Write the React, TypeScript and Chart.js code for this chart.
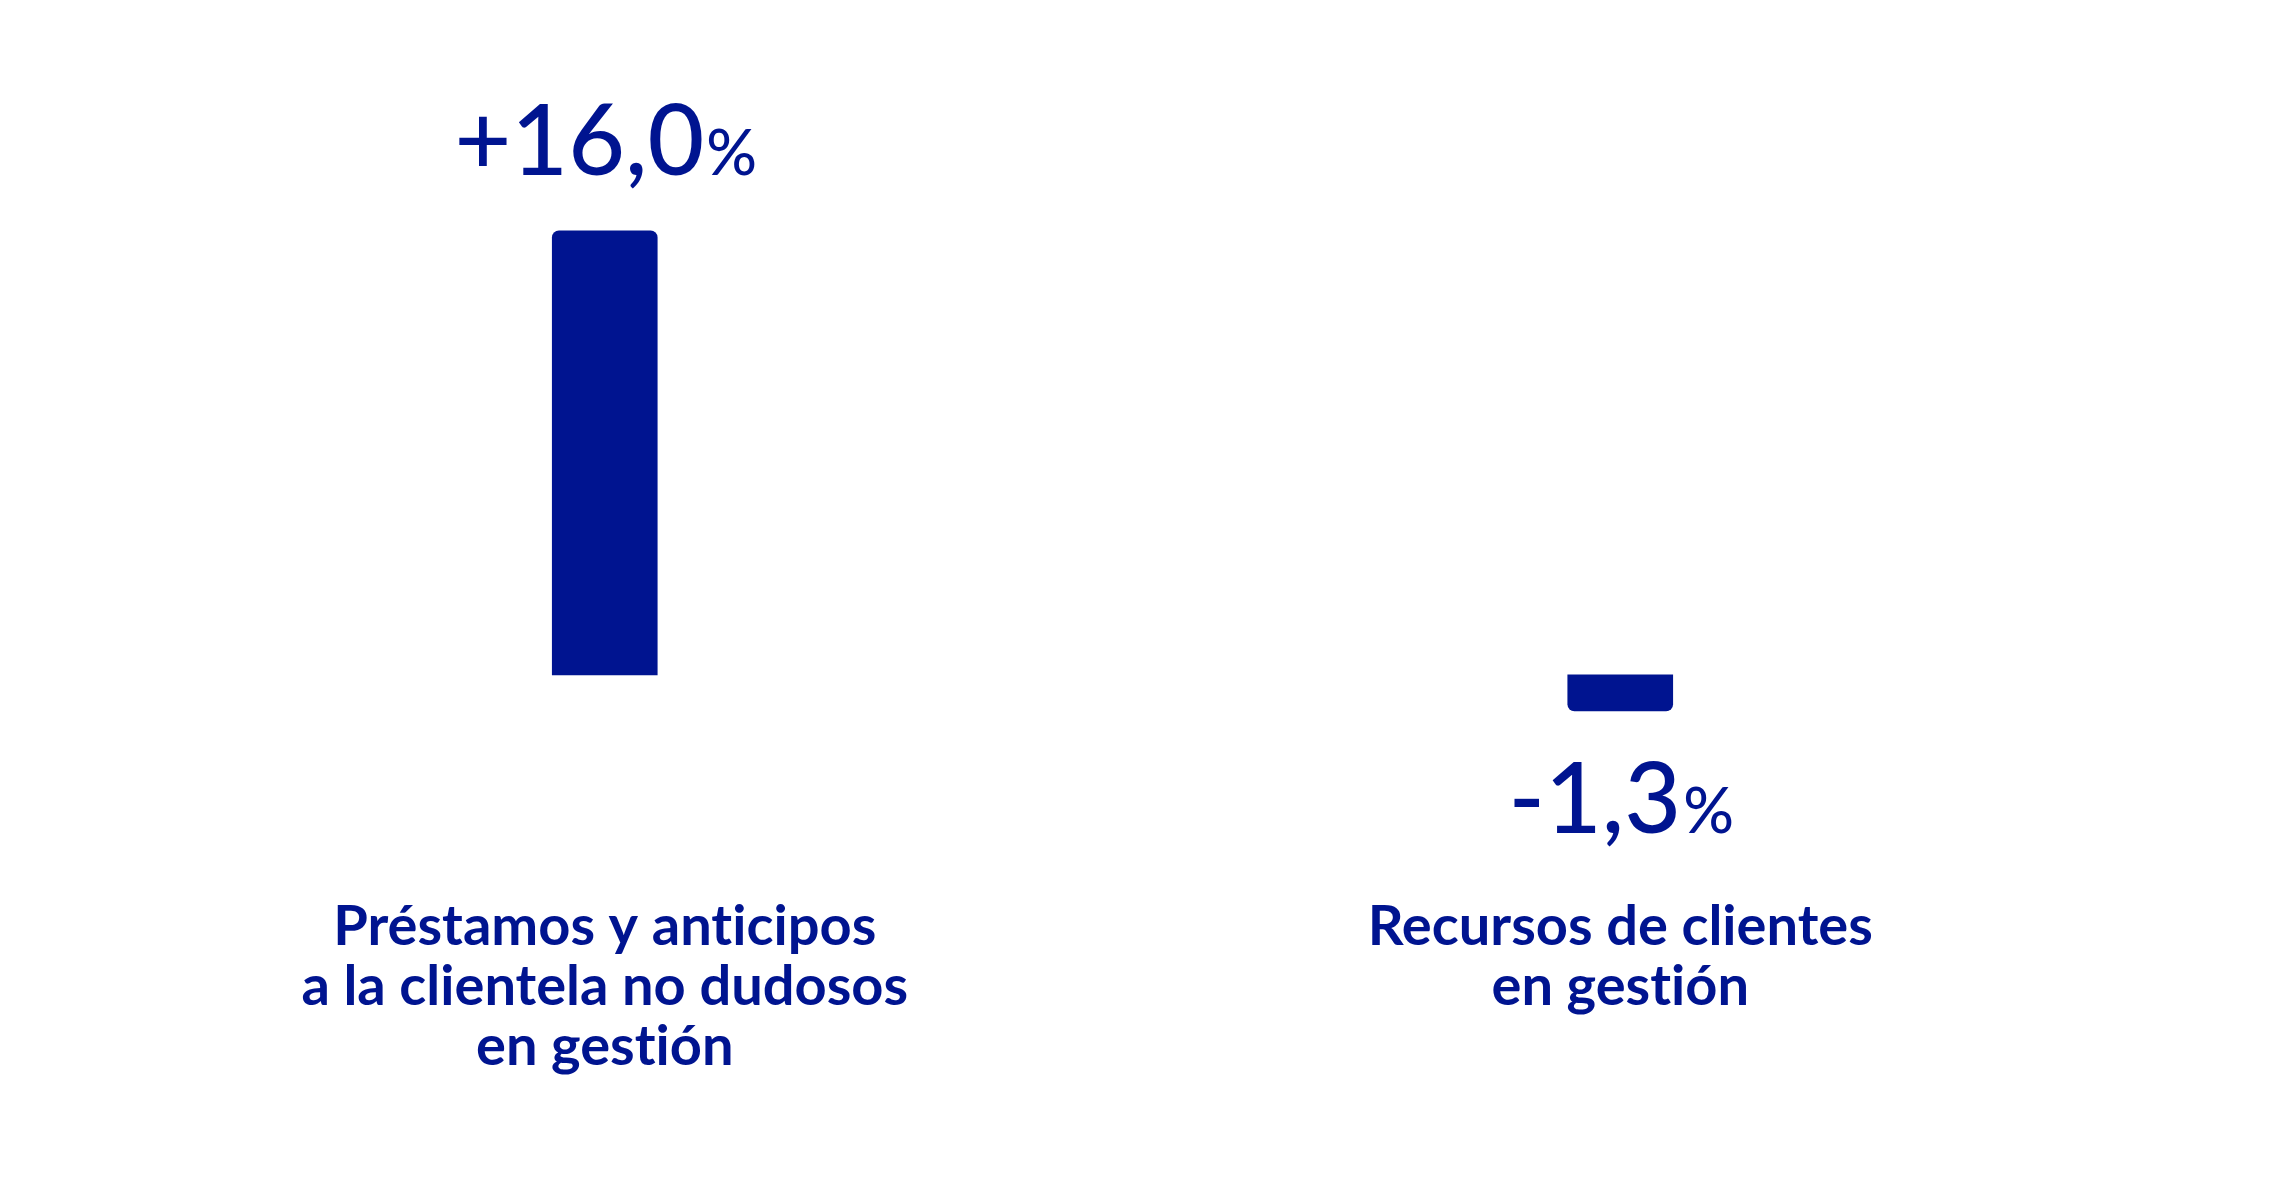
import { useEffect, useRef } from "react";
import { Chart, registerables, type Plugin } from "chart.js";

Chart.register(...registerables);

const categories = [
  ["Préstamos y anticipos", "a la clientela no dudosos", "en gestión"],
  ["Recursos de clientes", "en gestión"],
];
const changes = [16.0, -1.3];

const navy = "#001490";
const labelFamily = "Lato, 'Open Sans', sans-serif";

const formatChange = (value: number) =>
  `${value > 0 ? "+" : ""}${value.toFixed(1).replace(".", ",")}`;

// no "ti" ligatures, as in the original artwork
const plainText: Plugin<"bar"> = {
  id: "plainText",
  beforeDraw(chart) {
    (chart.ctx as any).textRendering = "optimizeSpeed";
  },
};

// draws "+16,0%" above / below each bar, with the % sign set smaller
const valueLabels: Plugin<"bar"> = {
  id: "valueLabels",
  afterDatasetsDraw(chart) {
    const { ctx } = chart;
    const meta = chart.getDatasetMeta(0);
    ctx.save();
    ctx.fillStyle = navy;
    ctx.textBaseline = "alphabetic";
    ctx.textAlign = "left";
    meta.data.forEach((bar, index) => {
      const value = changes[index];
      const number = formatChange(value);
      ctx.font = `500 98px ${labelFamily}`;
      const numberWidth = ctx.measureText(number).width;
      ctx.font = `500 63px ${labelFamily}`;
      const pctWidth = ctx.measureText("%").width;
      const left = bar.x - (numberWidth + pctWidth) / 2;
      const baseline = value >= 0 ? bar.y - 56 : bar.y + 122;
      ctx.font = `500 98px ${labelFamily}`;
      ctx.fillText(number, left, baseline);
      ctx.font = `500 63px ${labelFamily}`;
      ctx.fillText("%", left + numberWidth + 2, baseline);
    });
    ctx.restore();
  },
};

export default function App() {
  const canvasRef = useRef<HTMLCanvasElement | null>(null);
  const chartRef = useRef<Chart | null>(null);

  useEffect(() => {
    const canvas = canvasRef.current;
    if (!canvas) {
      return;
    }

    chartRef.current?.destroy();

    chartRef.current = new Chart(canvas, {
      type: "bar",
      data: {
        labels: categories,
        datasets: [
          {
            data: changes,
            backgroundColor: navy,
            borderRadius: 7,
            borderSkipped: "start",
            barThickness: 105,
          },
        ],
      },
      options: {
        responsive: true,
        maintainAspectRatio: false,
        animation: false,
        layout: {
          padding: { top: 203, bottom: 112, left: 97, right: 165 },
        },
        plugins: {
          legend: { display: false },
          tooltip: { enabled: false },
        },
        scales: {
          x: {
            grid: { display: false, drawTicks: false },
            border: { display: false },
            ticks: {
              color: navy,
              padding: 0,
              font: { family: labelFamily, size: 56, weight: "bold", lineHeight: "60px" },
            },
          },
          y: {
            display: false,
            min: -8,
            max: 17,
          },
        },
      },
      plugins: [plainText, valueLabels],
    });

    return () => {
      chartRef.current?.destroy();
    };
  }, []);

  return (
    <div
      style={{
        position: "fixed",
        left: 0,
        top: 0,
        width: "2293px",
        height: "1189px",
        background: "#ffffff",
      }}
    >
      <canvas ref={canvasRef} />
    </div>
  );
}
